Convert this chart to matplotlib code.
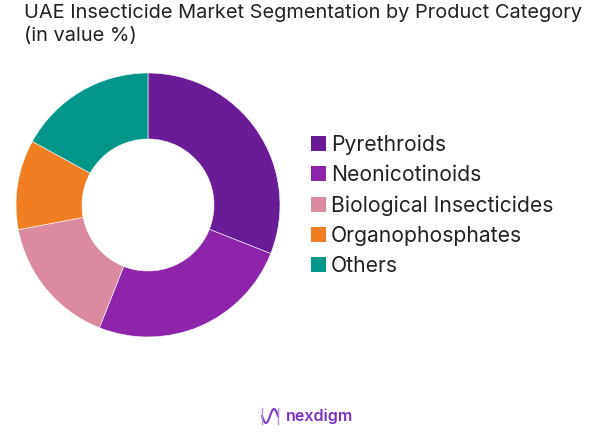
import matplotlib
matplotlib.use("Agg")
import matplotlib.pyplot as plt
import numpy as np
from matplotlib.patches import Patch

categories = ["Pyrethroids", "Neonicotinoids", "Biological Insecticides", "Organophosphates", "Others"]
values = [31, 25, 16, 11, 17]
colors = ["#6A1B96", "#8E24AA", "#DC8AA0", "#F07F23", "#00968A"]

title_line1 = "UAE Insecticide Market Segmentation by Product Category"
title_line2 = "(in value %)"

plt.rcParams['font.family'] = ['Inter', 'DejaVu Sans']

W, H = 613, 437
fig = plt.figure(figsize=(W/100, H/100), dpi=100)

cx, cy, r = 148, 205, 132
ax = fig.add_axes([(cx - r)/W, (H - cy - r)/H, 2*r/W, 2*r/H])
ax.pie(values, colors=colors, startangle=90, counterclock=False, radius=1,
       wedgeprops=dict(width=0.5, edgecolor='white', linewidth=0.4))
ax.set_xlim(-1, 1)
ax.set_ylim(-1, 1)
ax.set_aspect('equal')
ax.axis('off')

fig.text(24/W, 1 - 18/H, title_line1, ha='left', va='baseline', fontsize=14.4,
         color='#222222')
fig.text(24/W, 1 - 41/H, title_line2, ha='left', va='baseline', fontsize=14.4,
         color='#222222')

handles = [Patch(facecolor=c, edgecolor='none') for c in colors]
leg = fig.legend(handles, categories, loc='upper left', bbox_to_anchor=(303/W, 1 - 126/H),
                 frameon=False, fontsize=15.2, labelspacing=0.48, handlelength=0.68,
                 handleheight=0.68, handletextpad=0.25, borderaxespad=0)
for t in leg.get_texts():
    t.set_color('#222222')

# logo
lx = np.linspace(262, 278, 50)
ly = 416 + 7*np.sin((lx - 262)/16*2*np.pi)
fig.add_artist(plt.Line2D(lx/W, 1 - ly/H, color='#7B3FC4', lw=1.5))
fig.add_artist(plt.Line2D([262/W, 262/W], [1 - 408/H, 1 - 424/H], color='#B08FE0', lw=1))
fig.add_artist(plt.Line2D([278/W, 278/W], [1 - 408/H, 1 - 424/H], color='#B08FE0', lw=1))
fig.text(286/W, 1 - 416/H, "nexdigm", ha='left', va='center', fontsize=11.5,
         color='#7B2FBF', fontweight='semibold')

fig.savefig("out.png", dpi=100, facecolor='white')
